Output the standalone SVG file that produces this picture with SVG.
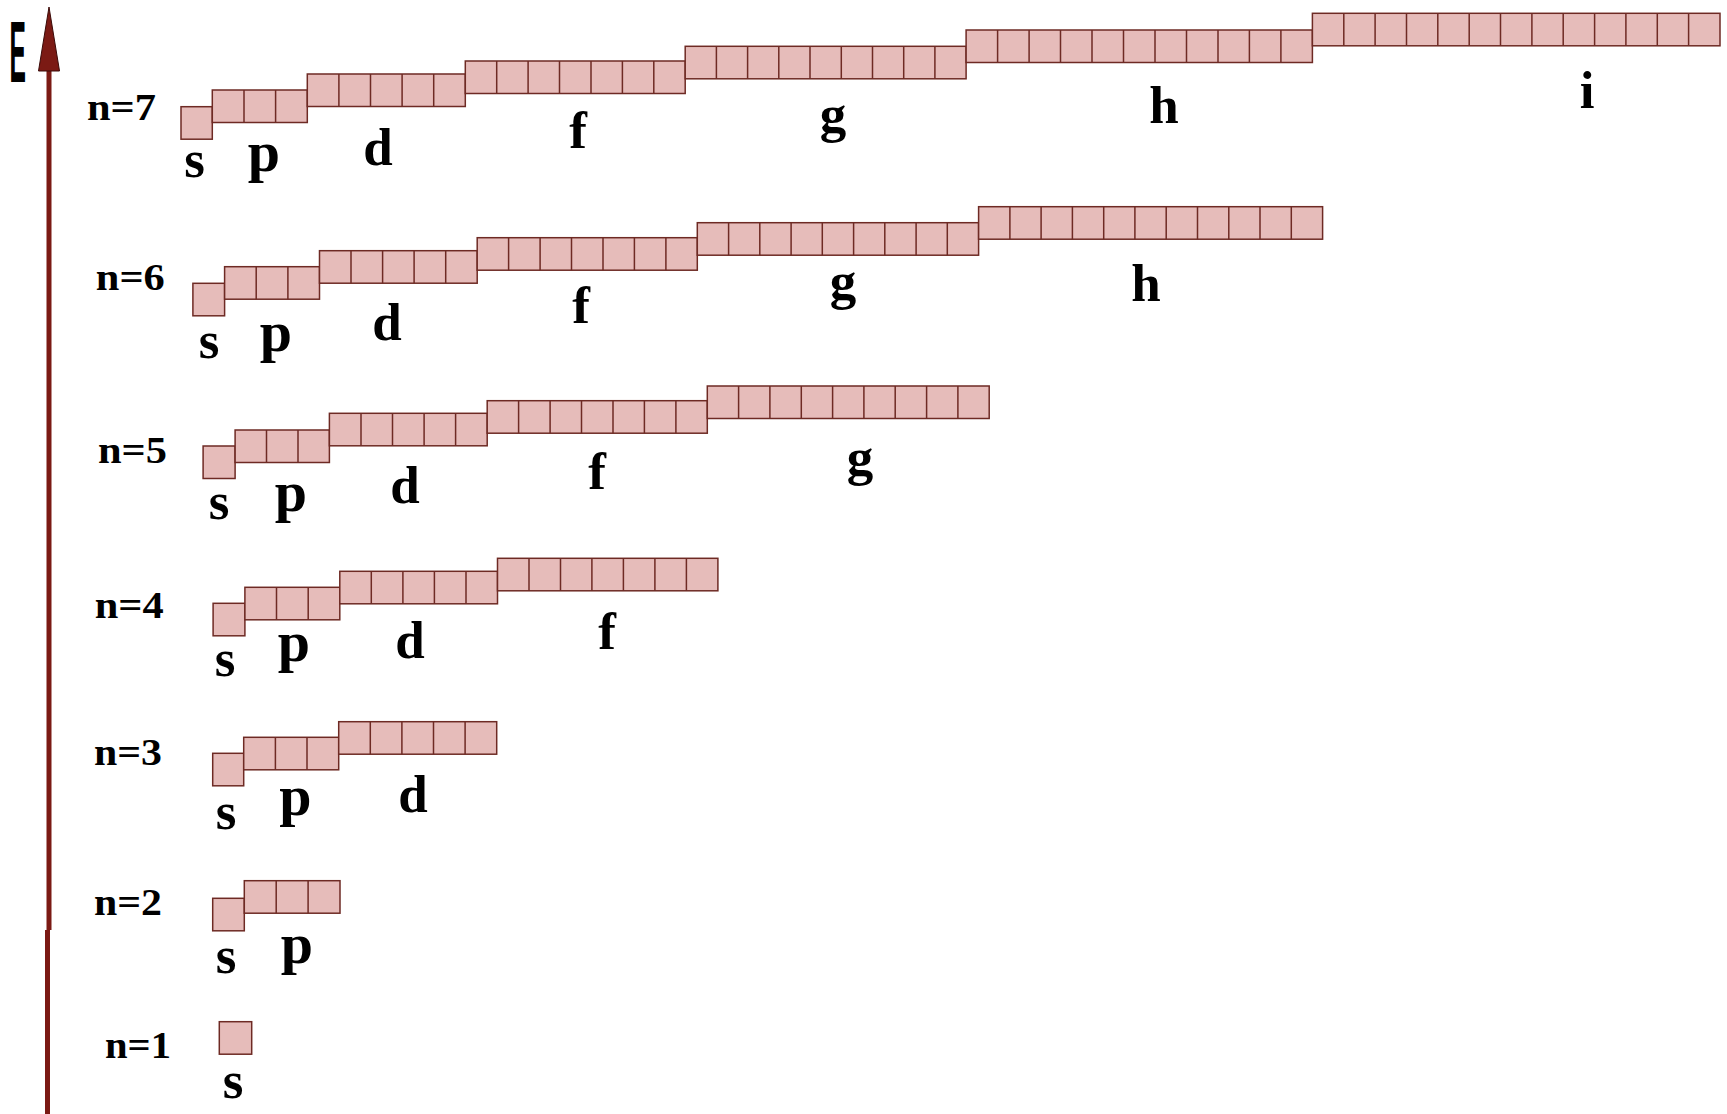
<svg xmlns="http://www.w3.org/2000/svg" width="1727" height="1114" viewBox="0 0 1727 1114">
<style>
.cell{fill:#e6bcba;stroke:#6e2a24;stroke-width:1.5}
.div{fill:none;stroke:#6e2a24;stroke-width:1.5}
.nlab{font-family:"Liberation Serif","Times New Roman",serif;font-weight:bold;font-size:38px;fill:#000}
.lbl{font-family:"Liberation Serif","Times New Roman",serif;font-weight:bold;font-size:53px;fill:#000;text-anchor:middle}
.lp{font-size:58px}
.ax{fill:#7b1a14}
</style>
<rect width="1727" height="1114" fill="#fff"/>
<g id="axis">
<rect class="ax" x="46.5" y="66" width="5" height="864"/>
<rect class="ax" x="45" y="930" width="5" height="184"/>
<polygon class="ax" points="49,7 38.5,71 59.5,71" stroke="#3a0a08" stroke-width="1"/>
<text transform="translate(9.5,81.5) scale(0.28,1)" font-family="Liberation Sans, Arial, sans-serif" font-weight="bold" font-size="88" fill="#000">E</text>
</g>

<g id="n7">
<text class="nlab" x="87" y="120" textLength="69" lengthAdjust="spacingAndGlyphs">n=7</text>
<g id="n7-s"><rect class="cell" x="181" y="106.7" width="31.3" height="32.5"/><text class="lbl" x="194.5" y="177">s</text></g>
<g id="n7-p"><rect class="cell" x="212.3" y="90" width="95" height="32.5"/><path class="div" d="M244,90v32.5M275.6,90v32.5"/><text class="lbl lp" x="264" y="171">p</text></g>
<g id="n7-d"><rect class="cell" x="307.3" y="74" width="158" height="32.5"/><path class="div" d="M338.9,74v32.5M370.5,74v32.5M402.1,74v32.5M433.7,74v32.5"/><text class="lbl" x="378" y="165">d</text></g>
<g id="n7-f"><rect class="cell" x="465.3" y="61" width="219.9" height="32.5"/><path class="div" d="M496.7,61v32.5M528.1,61v32.5M559.5,61v32.5M591,61v32.5M622.4,61v32.5M653.8,61v32.5"/><text class="lbl" x="578" y="148">f</text></g>
<g id="n7-g"><rect class="cell" x="685.2" y="46.3" width="280.9" height="32.5"/><path class="div" d="M716.4,46.3v32.5M747.6,46.3v32.5M778.8,46.3v32.5M810,46.3v32.5M841.3,46.3v32.5M872.5,46.3v32.5M903.7,46.3v32.5M934.9,46.3v32.5"/><text class="lbl" x="833" y="132">g</text></g>
<g id="n7-h"><rect class="cell" x="966.1" y="30" width="346.3" height="32.5"/><path class="div" d="M997.6,30v32.5M1029.1,30v32.5M1060.5,30v32.5M1092,30v32.5M1123.5,30v32.5M1155,30v32.5M1186.5,30v32.5M1218,30v32.5M1249.4,30v32.5M1280.9,30v32.5"/><text class="lbl" x="1164" y="123">h</text></g>
<g id="n7-i"><rect class="cell" x="1312.4" y="13.3" width="407.6" height="32.5"/><path class="div" d="M1343.8,13.3v32.5M1375.1,13.3v32.5M1406.5,13.3v32.5M1437.8,13.3v32.5M1469.2,13.3v32.5M1500.5,13.3v32.5M1531.9,13.3v32.5M1563.2,13.3v32.5M1594.6,13.3v32.5M1625.9,13.3v32.5M1657.3,13.3v32.5M1688.6,13.3v32.5"/><text class="lbl" x="1587" y="108">i</text></g>
</g>

<g id="n6">
<text class="nlab" x="95.8" y="289.7" textLength="69" lengthAdjust="spacingAndGlyphs">n=6</text>
<g id="n6-s"><rect class="cell" x="192.9" y="283.3" width="31.7" height="32.5"/><text class="lbl" x="209" y="358">s</text></g>
<g id="n6-p"><rect class="cell" x="224.6" y="266.7" width="94.9" height="32.5"/><path class="div" d="M256.2,266.7v32.5M287.9,266.7v32.5"/><text class="lbl lp" x="276" y="351">p</text></g>
<g id="n6-d"><rect class="cell" x="319.5" y="250.7" width="157.7" height="32.5"/><path class="div" d="M351,250.7v32.5M382.6,250.7v32.5M414.1,250.7v32.5M445.7,250.7v32.5"/><text class="lbl" x="387" y="340">d</text></g>
<g id="n6-f"><rect class="cell" x="477.2" y="237.7" width="220.1" height="32.5"/><path class="div" d="M508.6,237.7v32.5M540.1,237.7v32.5M571.5,237.7v32.5M603,237.7v32.5M634.4,237.7v32.5M665.9,237.7v32.5"/><text class="lbl" x="581" y="323">f</text></g>
<g id="n6-g"><rect class="cell" x="697.3" y="222.7" width="281.3" height="32.5"/><path class="div" d="M728.6,222.7v32.5M759.8,222.7v32.5M791.1,222.7v32.5M822.3,222.7v32.5M853.6,222.7v32.5M884.8,222.7v32.5M916.1,222.7v32.5M947.3,222.7v32.5"/><text class="lbl" x="843" y="299">g</text></g>
<g id="n6-h"><rect class="cell" x="978.6" y="206.7" width="344" height="32.5"/><path class="div" d="M1009.9,206.7v32.5M1041.1,206.7v32.5M1072.4,206.7v32.5M1103.7,206.7v32.5M1134.9,206.7v32.5M1166.2,206.7v32.5M1197.5,206.7v32.5M1228.8,206.7v32.5M1260,206.7v32.5M1291.3,206.7v32.5"/><text class="lbl" x="1146" y="301">h</text></g>
</g>

<g id="n5">
<text class="nlab" x="98" y="462.6" textLength="69" lengthAdjust="spacingAndGlyphs">n=5</text>
<g id="n5-s"><rect class="cell" x="203.1" y="446" width="32" height="32.5"/><text class="lbl" x="219" y="519">s</text></g>
<g id="n5-p"><rect class="cell" x="235.1" y="430" width="94.3" height="32.5"/><path class="div" d="M266.5,430v32.5M298,430v32.5"/><text class="lbl lp" x="291" y="511">p</text></g>
<g id="n5-d"><rect class="cell" x="329.4" y="413.3" width="157.8" height="32.5"/><path class="div" d="M361,413.3v32.5M392.5,413.3v32.5M424.1,413.3v32.5M455.6,413.3v32.5"/><text class="lbl" x="405" y="503">d</text></g>
<g id="n5-f"><rect class="cell" x="487.2" y="400.7" width="220.1" height="32.5"/><path class="div" d="M518.6,400.7v32.5M550.1,400.7v32.5M581.5,400.7v32.5M613,400.7v32.5M644.4,400.7v32.5M675.9,400.7v32.5"/><text class="lbl" x="597" y="489">f</text></g>
<g id="n5-g"><rect class="cell" x="707.3" y="386" width="281.9" height="32.5"/><path class="div" d="M738.6,386v32.5M769.9,386v32.5M801.3,386v32.5M832.6,386v32.5M863.9,386v32.5M895.2,386v32.5M926.6,386v32.5M957.9,386v32.5"/><text class="lbl" x="860" y="475">g</text></g>
</g>

<g id="n4">
<text class="nlab" x="94.7" y="617.9" textLength="69" lengthAdjust="spacingAndGlyphs">n=4</text>
<g id="n4-s"><rect class="cell" x="213.1" y="603.3" width="31.8" height="32.5"/><text class="lbl" x="225" y="676">s</text></g>
<g id="n4-p"><rect class="cell" x="244.9" y="587.3" width="94.9" height="32.5"/><path class="div" d="M276.5,587.3v32.5M308.2,587.3v32.5"/><text class="lbl lp" x="294" y="661">p</text></g>
<g id="n4-d"><rect class="cell" x="339.8" y="571.3" width="157.7" height="32.5"/><path class="div" d="M371.3,571.3v32.5M402.9,571.3v32.5M434.4,571.3v32.5M466,571.3v32.5"/><text class="lbl" x="410" y="658">d</text></g>
<g id="n4-f"><rect class="cell" x="497.5" y="558.3" width="220.4" height="32.5"/><path class="div" d="M529,558.3v32.5M560.5,558.3v32.5M591.9,558.3v32.5M623.4,558.3v32.5M654.9,558.3v32.5M686.4,558.3v32.5"/><text class="lbl" x="607" y="649">f</text></g>
</g>

<g id="n3">
<text class="nlab" x="94" y="765" textLength="68" lengthAdjust="spacingAndGlyphs">n=3</text>
<g id="n3-s"><rect class="cell" x="212.7" y="753.3" width="31" height="32.5"/><text class="lbl" x="226" y="829">s</text></g>
<g id="n3-p"><rect class="cell" x="243.7" y="737.3" width="95" height="32.5"/><path class="div" d="M275.4,737.3v32.5M307,737.3v32.5"/><text class="lbl lp" x="295.5" y="815">p</text></g>
<g id="n3-d"><rect class="cell" x="338.7" y="721.7" width="158" height="32.5"/><path class="div" d="M370.3,721.7v32.5M401.9,721.7v32.5M433.5,721.7v32.5M465.1,721.7v32.5"/><text class="lbl" x="413" y="812">d</text></g>
</g>

<g id="n2">
<text class="nlab" x="94" y="915" textLength="68" lengthAdjust="spacingAndGlyphs">n=2</text>
<g id="n2-s"><rect class="cell" x="212.7" y="898.3" width="31.6" height="32.5"/><text class="lbl" x="226" y="973">s</text></g>
<g id="n2-p"><rect class="cell" x="244.3" y="880.7" width="95.7" height="32.5"/><path class="div" d="M276.2,880.7v32.5M308.1,880.7v32.5"/><text class="lbl lp" x="297" y="963">p</text></g>
</g>

<g id="n1">
<text class="nlab" x="105" y="1058.3" textLength="66" lengthAdjust="spacingAndGlyphs">n=1</text>
<g id="n1-s"><rect class="cell" x="219.3" y="1021.7" width="32.4" height="32.5"/><text class="lbl" x="233" y="1098">s</text></g>
</g>
</svg>
